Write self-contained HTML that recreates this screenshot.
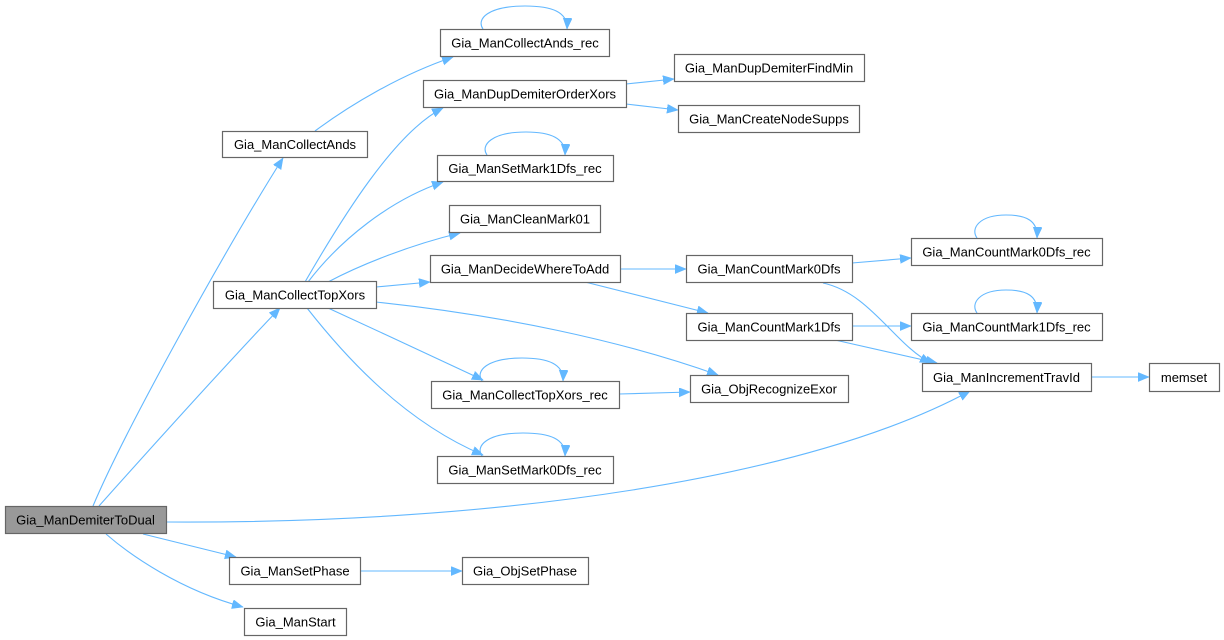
<!DOCTYPE html>
<html><head><meta charset="utf-8"><style>
html,body{margin:0;padding:0;background:#fff;}
svg{display:block;}
text{font-family:"Liberation Sans",Arial,sans-serif;font-size:13px;fill:#000;}
.e{fill:none;stroke:#63b8ff;stroke-width:1.1;}
.b{fill:#fff;stroke:#666;stroke-width:1.2;}
</style></head><body>
<svg width="1224" height="640" viewBox="0 0 1224 640" xmlns="http://www.w3.org/2000/svg">
<defs>
<marker id="a" markerUnits="userSpaceOnUse" markerWidth="14" markerHeight="12" refX="11" refY="4.5" orient="auto">
<path d="M0,0 L11,4.5 L0,9 z" fill="#63b8ff" stroke="#63b8ff" stroke-width="0.6"/>
</marker>
</defs>
<g>
<path class="e" marker-end="url(#a)" d="M93,506 C125,430 225,250 283,158"/>
<path class="e" marker-end="url(#a)" d="M99,506 C140,460 230,360 280,308"/>
<path class="e" marker-end="url(#a)" d="M143,534 L236,557"/>
<path class="e" marker-end="url(#a)" d="M106,534 C130,555 180,590 243,607"/>
<path class="e" marker-end="url(#a)" d="M166,522 C500,524 810,478 970,391"/>
<path class="e" marker-end="url(#a)" d="M315,131 C350,105 400,75 453,57"/>
<path class="e" marker-end="url(#a)" d="M305,282 C342,218 395,132 443,108"/>
<path class="e" marker-end="url(#a)" d="M308,282 C340,240 390,200 443,182"/>
<path class="e" marker-end="url(#a)" d="M328,282 C360,265 410,245 460,233"/>
<path class="e" marker-end="url(#a)" d="M376,287 L430,282"/>
<path class="e" marker-end="url(#a)" d="M376,302 C500,315 620,340 718,375"/>
<path class="e" marker-end="url(#a)" d="M328,308 C380,332 430,355 483,380"/>
<path class="e" marker-end="url(#a)" d="M307,308 C340,350 400,420 483,455"/>
<path class="e" marker-end="url(#a)" d="M626,84 L674,79"/>
<path class="e" marker-end="url(#a)" d="M626,104 L678,110"/>
<path class="e" marker-end="url(#a)" d="M620,269 L686,269"/>
<path class="e" marker-end="url(#a)" d="M585,282 L708,313"/>
<path class="e" marker-end="url(#a)" d="M852,263 L911,258"/>
<path class="e" marker-end="url(#a)" d="M823,283 C870,293 895,345 931,363"/>
<path class="e" marker-end="url(#a)" d="M852,326 L911,326"/>
<path class="e" marker-end="url(#a)" d="M835,340 L937,363"/>
<path class="e" marker-end="url(#a)" d="M1091,377 L1149,377"/>
<path class="e" marker-end="url(#a)" d="M619,394 L690,392"/>
<path class="e" marker-end="url(#a)" d="M360,571 L462,571"/>
<path class="e" marker-end="url(#a)" d="M483,29 C476,19 488,6 525,6 C552,6 568,12 567,29"/>
<path class="e" marker-end="url(#a)" d="M487,155 C480,145 492,132 526,132 C550,132 566,138 565,155"/>
<path class="e" marker-end="url(#a)" d="M482,381 C475,371 487,358 522,358 C548,358 564,364 563,381"/>
<path class="e" marker-end="url(#a)" d="M482,456 C475,446 487,433 523,433 C550,433 566,439 565,456"/>
<path class="e" marker-end="url(#a)" d="M977,238 C970,228 980,215 1006,215 C1027,215 1038,221 1037,238"/>
<path class="e" marker-end="url(#a)" d="M977,313 C970,303 980,290 1006,290 C1027,290 1038,296 1037,313"/>
</g>
<g>
<rect class="b" x="5.5" y="506.5" width="161" height="27" style="fill:#999"/>
<text x="85.5" y="524.5" text-anchor="middle">Gia_ManDemiterToDual</text>
<rect class="b" x="222.5" y="131.5" width="145" height="26"/>
<text x="295" y="149" text-anchor="middle">Gia_ManCollectAnds</text>
<rect class="b" x="213.5" y="281.5" width="163" height="27"/>
<text x="295" y="299.5" text-anchor="middle">Gia_ManCollectTopXors</text>
<rect class="b" x="229.5" y="557.5" width="131" height="27"/>
<text x="295" y="575.5" text-anchor="middle">Gia_ManSetPhase</text>
<rect class="b" x="244.5" y="608.5" width="102" height="27"/>
<text x="295.5" y="626.5" text-anchor="middle">Gia_ManStart</text>
<rect class="b" x="440.5" y="29.5" width="169" height="27"/>
<text x="525" y="47.5" text-anchor="middle">Gia_ManCollectAnds_rec</text>
<rect class="b" x="423.5" y="80.5" width="203" height="27"/>
<text x="525" y="98.5" text-anchor="middle">Gia_ManDupDemiterOrderXors</text>
<rect class="b" x="437.5" y="155.5" width="176" height="26"/>
<text x="525" y="173" text-anchor="middle">Gia_ManSetMark1Dfs_rec</text>
<rect class="b" x="449.5" y="205.5" width="151" height="27"/>
<text x="525" y="223.5" text-anchor="middle">Gia_ManCleanMark01</text>
<rect class="b" x="430.5" y="255.5" width="190" height="27"/>
<text x="525" y="273.5" text-anchor="middle">Gia_ManDecideWhereToAdd</text>
<rect class="b" x="431.5" y="381.5" width="188" height="27"/>
<text x="525" y="399.5" text-anchor="middle">Gia_ManCollectTopXors_rec</text>
<rect class="b" x="437.5" y="456.5" width="176" height="27"/>
<text x="525" y="474.5" text-anchor="middle">Gia_ManSetMark0Dfs_rec</text>
<rect class="b" x="462.5" y="557.5" width="126" height="27"/>
<text x="525" y="575.5" text-anchor="middle">Gia_ObjSetPhase</text>
<rect class="b" x="674.5" y="54.5" width="190" height="27"/>
<text x="769" y="72.5" text-anchor="middle">Gia_ManDupDemiterFindMin</text>
<rect class="b" x="678.5" y="105.5" width="181" height="27"/>
<text x="769" y="123.5" text-anchor="middle">Gia_ManCreateNodeSupps</text>
<rect class="b" x="686.5" y="255.5" width="166" height="27"/>
<text x="769" y="273.5" text-anchor="middle">Gia_ManCountMark0Dfs</text>
<rect class="b" x="686.5" y="313.5" width="166" height="27"/>
<text x="769" y="331.5" text-anchor="middle">Gia_ManCountMark1Dfs</text>
<rect class="b" x="690.5" y="375.5" width="158" height="27"/>
<text x="769" y="393.5" text-anchor="middle">Gia_ObjRecognizeExor</text>
<rect class="b" x="911.5" y="238.5" width="191" height="27"/>
<text x="1006.5" y="256.5" text-anchor="middle">Gia_ManCountMark0Dfs_rec</text>
<rect class="b" x="911.5" y="313.5" width="191" height="27"/>
<text x="1006.5" y="331.5" text-anchor="middle">Gia_ManCountMark1Dfs_rec</text>
<rect class="b" x="922.5" y="363.5" width="169" height="28"/>
<text x="1006.5" y="382" text-anchor="middle">Gia_ManIncrementTravId</text>
<rect class="b" x="1149.5" y="363.5" width="70" height="28"/>
<text x="1184" y="382" text-anchor="middle">memset</text>
</g>
</svg>
</body></html>
